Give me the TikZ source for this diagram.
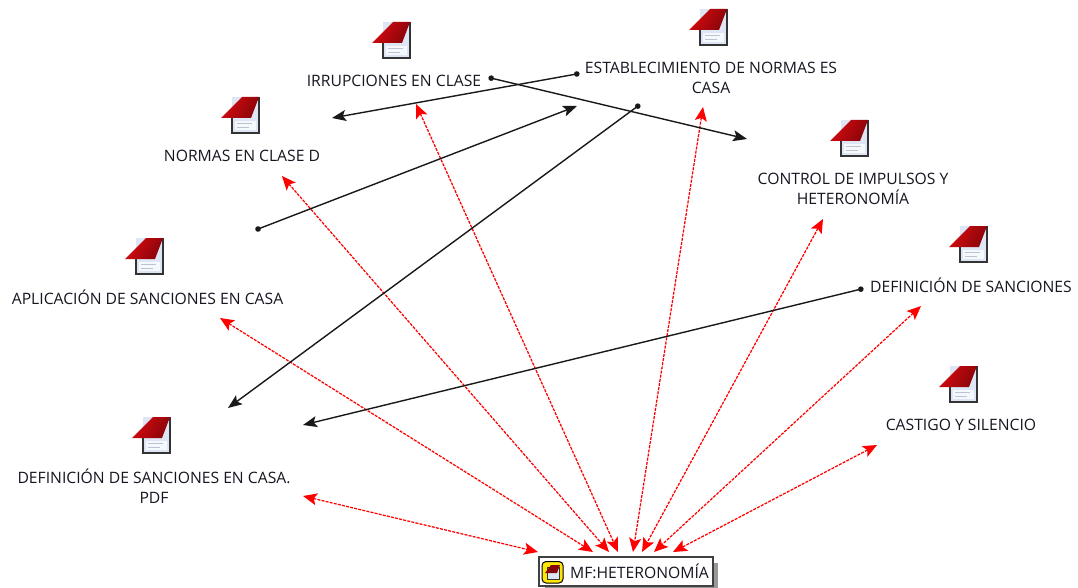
\documentclass[tikz,border=0pt]{standalone}
\usepackage{fontspec}
\setmainfont{Open Sans}
\usetikzlibrary{arrows.meta}
\definecolor{flagdark}{RGB}{135,5,10}
\definecolor{flaglight}{RGB}{215,10,15}
\definecolor{pagefill}{RGB}{222,230,246}
\definecolor{labeltext}{RGB}{22,22,34}
\tikzset{
  x=1pt,y=-1pt,
  lbl/.style={font=\fontsize{15.7}{20}\selectfont,text=labeltext,align=center,inner sep=0pt},
  blackarrow/.style={draw=black!90,line width=1.4pt,{Circle[length=5.5pt,width=5.5pt]}-{Stealth[length=14pt,width=11pt,inset=3pt]}},
  redarrow/.style={draw=red,line width=1.25pt,dash pattern=on 3pt off 1.2pt,{Stealth[length=14pt,width=12pt,inset=3pt]}-{Stealth[length=14pt,width=12pt,inset=3pt]}},
  pageicon/.pic={
    \fill[pagefill] (-27,0) rectangle (0,36);
    \fill[white!70!pagefill] (-24,24) rectangle (-3,33);
    \draw[black!15!pagefill,line width=0.8pt] (-22,26.5) -- (-7,26.5) (-22,30) -- (-10,30);
    \draw[black!80,line width=1.2pt] (-27,21) -- (-27,36) -- (0,36) -- (0,0);
    \shade[left color=flaglight,right color=flagdark,shading angle=60] (-17,0) -- (0,0) -- (-8,21) -- (-38,21) -- cycle;
  }
}
\begin{document}
\begin{tikzpicture}
\useasboundingbox (0,0) rectangle (1078,588);
\fill[white] (0,0) rectangle (1078,588);
% icons
\pic at (410,22) {pageicon};
\pic at (727,9) {pageicon};
\pic at (259,97) {pageicon};
\pic at (868,120) {pageicon};
\pic at (163,238) {pageicon};
\pic at (987,226) {pageicon};
\pic at (977,366) {pageicon};
\pic at (170,417) {pageicon};
% labels
\node[lbl] (irr) at (394,81) {IRRUPCIONES EN CLASE};
\node[lbl] (est) at (711,77.5) {ESTABLECIMIENTO DE NORMAS ES\\CASA};
\node[lbl] (nor) at (242,156) {NORMAS EN CLASE D};
\node[lbl] (con) at (853,188.5) {CONTROL DE IMPULSOS Y\\HETERONOMÍA};
\node[lbl] (apl) at (147.5,297) {APLICACIÓN DE SANCIONES EN CASA};
\node[lbl] (def) at (971,285) {DEFINICIÓN DE SANCIONES};
\node[lbl] (cas) at (961,425) {CASTIGO Y SILENCIO};
\node[lbl] (dca) at (154,486) {DEFINICIÓN DE SANCIONES EN CASA.\\PDF};
% hub
\fill[black!40] (545,563) rectangle (718,591);
\node[draw=black!75,line width=1.2pt,fill=white,minimum width=174pt,minimum height=29pt,inner sep=0pt] (hub) at (626,571.5) {};
\node[lbl,anchor=west] (hubt) at (570,571) {MF:HETERONOMÍA};
\fill[yellow!90!orange,draw=black,line width=1pt,rounded corners=4pt] (542,561.5) rectangle (563,583);
\fill[pagefill,draw=black!80,line width=0.9pt] (547,567) rectangle (559,579);
\fill[flagdark] (551,565) -- (560,565) -- (557,573) -- (545,573) -- cycle;
% named ends
\coordinate (a1) at (488.5,77.5);  \coordinate (a2) at (747,139);
\coordinate (b1) at (579.5,73.5);  \coordinate (b2) at (332,118);
\coordinate (c1) at (255.5,230); \coordinate (c2) at (577,106);
\coordinate (d1) at (640,104.5); \coordinate (d2) at (228,408);
\coordinate (e1) at (863.5,288.5); \coordinate (e2) at (303,425);
\coordinate (r1a) at (303,496); \coordinate (r1b) at (538,552);
\coordinate (r2a) at (220,318); \coordinate (r2b) at (593,552);
\coordinate (r3a) at (282,176); \coordinate (r3b) at (609,552);
\coordinate (r4a) at (416,104); \coordinate (r4b) at (618,552);
\coordinate (r5a) at (703,107); \coordinate (r5b) at (633,552);
\coordinate (r6a) at (823,219); \coordinate (r6b) at (642,552);
\coordinate (r7a) at (921,306); \coordinate (r7b) at (654,552);
\coordinate (r8a) at (877,445); \coordinate (r8b) at (673,552);
% connectors
\foreach \n in {1,...,8} \draw[redarrow] (r\n a) -- (r\n b);
\foreach \n in {a,b,c,d,e} \draw[blackarrow] (\n1) -- (\n2);
\end{tikzpicture}
\end{document}
